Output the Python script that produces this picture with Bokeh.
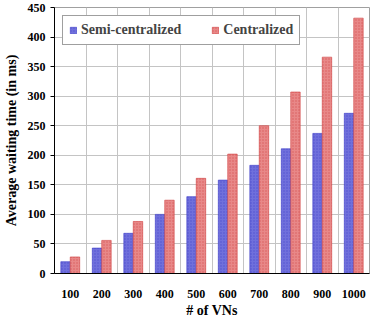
from bokeh.plotting import figure
from bokeh.models import Range1d, FixedTicker, ColumnDataSource, Legend, LegendItem
from bokeh.embed import file_html
from bokeh.resources import INLINE

categories = ["100", "200", "300", "400", "500", "600", "700", "800", "900", "1000"]
semi_centralized = [20, 43, 68, 100, 130, 158, 183, 211, 237, 271]
centralized = [28, 56, 88, 124, 161, 202, 250, 307, 366, 432]
y_ticks = [0, 50, 100, 150, 200, 250, 300, 350, 400, 450]

centers = [i + 0.5 for i in range(len(categories))]
bar_w = 0.3

src = ColumnDataSource(dict(
    xs=[c - bar_w / 2 for c in centers],
    xc=[c + bar_w / 2 for c in centers],
    semi=semi_centralized,
    cent=centralized,
))

FONT = "Liberation Serif"

p = figure(width=366, height=313, output_backend="svg", toolbar_location=None,
           x_range=Range1d(0, len(categories)), y_range=Range1d(0, 450),
           min_border_left=46, min_border_right=5, min_border_top=7, min_border_bottom=40)
p.frame_width = 315
p.frame_height = 266
p.outline_line_color = "#a0a0a0"
p.background_fill_color = "white"

r1 = p.vbar(x="xs", top="semi", width=bar_w, source=src, fill_color="#7070dc",
            line_color="#3c3cc8", line_width=0.6, hatch_pattern="dot", hatch_color="#3030c0",
            hatch_scale=3, hatch_alpha=0.5)
r2 = p.vbar(x="xc", top="cent", width=bar_w, source=src, fill_color="#e88888",
            line_color="#d04040", line_width=0.6, hatch_pattern="dot", hatch_color="#c83030",
            hatch_scale=3, hatch_alpha=0.5)

p.xaxis.ticker = FixedTicker(ticks=centers)
p.xaxis.major_label_overrides = {c: lab for c, lab in zip(centers, categories)}
p.xaxis.major_tick_line_color = None
p.xaxis.minor_tick_line_color = None
p.yaxis.ticker = FixedTicker(ticks=y_ticks)
p.yaxis.minor_tick_line_color = None
p.yaxis.major_tick_in = 0
p.yaxis.major_tick_out = 4

p.xgrid.ticker = FixedTicker(ticks=list(range(1, len(categories))))
p.xgrid.grid_line_color = "#c4c4c4"
p.ygrid.grid_line_color = "#c4c4c4"

for ax in (p.xaxis, p.yaxis):
    ax.axis_line_color = "black"
    ax.major_label_text_font = FONT
    ax.major_label_text_font_style = "bold"
    ax.major_label_text_font_size = "12px"
    ax.major_label_text_color = "black"
    ax.axis_label_text_font = FONT
    ax.axis_label_text_font_style = "bold"
    ax.axis_label_text_font_size = "14px"
    ax.axis_label_text_color = "black"

p.xaxis.axis_label = "# of VNs"
p.yaxis.axis_label = "Average waiting time (in ms)"
p.xaxis.major_label_standoff = 10
p.xaxis.axis_label_standoff = 2
p.yaxis.axis_label_standoff = 6

legend = Legend(items=[LegendItem(label="Semi-centralized", renderers=[r1]),
                       LegendItem(label="Centralized", renderers=[r2])],
                orientation="horizontal", location="top_left",
                label_text_font=FONT, label_text_font_style="bold", label_text_font_size="14px",
                glyph_width=8, glyph_height=8, spacing=30, padding=6, margin=8,
                label_standoff=4, border_line_color="#404040", border_line_width=1,
                background_fill_alpha=1, label_height=14)
p.add_layout(legend)

open("out.html", "w").write(file_html(p, INLINE))
